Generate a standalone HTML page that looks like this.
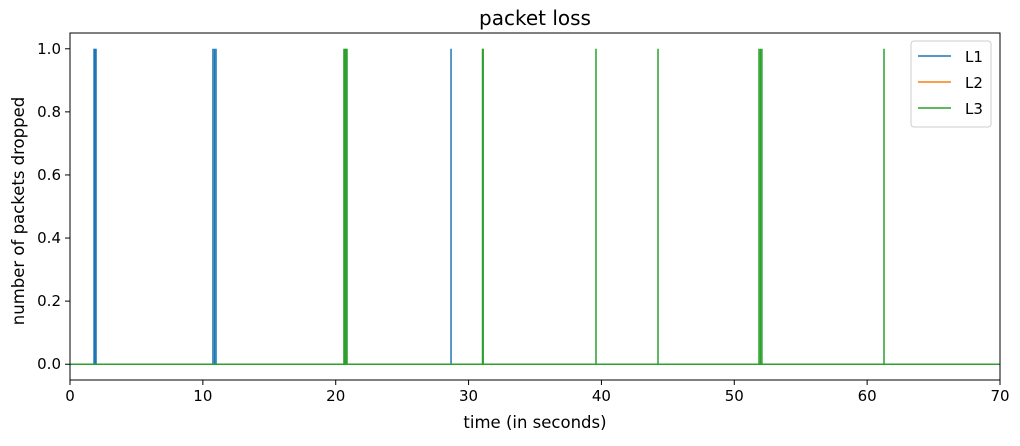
<!DOCTYPE html>
<html><head><meta charset="utf-8"><style>
body{margin:0;background:#fff;font-family:"Liberation Sans","DejaVu Sans",sans-serif}
</style></head><body>
<svg id="chart" width="1020" height="441" xmlns="http://www.w3.org/2000/svg" font-family="DejaVu Sans, Liberation Sans, sans-serif">
<text x="535" y="25" font-size="20" text-anchor="middle" fill="#000">packet loss</text>
<g id="marks"></g>
<g id="axes"></g>
<text x="535" y="428" font-size="16.5" text-anchor="middle">time (in seconds)</text>
<text transform="translate(24,211) rotate(-90)" font-size="16.5" text-anchor="middle">number of packets dropped</text>
<g>
<rect x="911" y="41" width="80" height="86" rx="3" fill="#fff" stroke="#ccc"/>
<line x1="918" y1="56" x2="951" y2="56" stroke="#1f77b4" stroke-width="1.5"/>
<text x="965" y="62" font-size="15">L1</text>
<line x1="918" y1="82" x2="951" y2="82" stroke="#ff7f0e" stroke-width="1.5"/>
<text x="965" y="88" font-size="15">L2</text>
<line x1="918" y1="108" x2="951" y2="108" stroke="#2ca02c" stroke-width="1.5"/>
<text x="965" y="114" font-size="15">L3</text>
</g>
</svg>
<script>
const l1Times=[1.81,1.88,1.96,10.76,10.88,10.99,28.68];
const l2Times=[];
const l3Times=[20.62,20.7,20.78,20.85,31.05,31.1,39.59,44.26,51.86,51.97,52.08,61.27];
const xTicks=[0,10,20,30,40,50,60,70];
const yTicks=[0,0.2,0.4,0.6,0.8,1.0];
const L=70,R=1000,T=33,B=380,xMin=0,xMax=70,yMin=-0.05,yMax=1.05;
const X=v=>L+(v-xMin)/(xMax-xMin)*(R-L);
const Y=v=>B-(v-yMin)/(yMax-yMin)*(B-T);
const NS="http://www.w3.org/2000/svg";
const marks=document.getElementById('marks'),axes=document.getElementById('axes');
function ln(p,x1,y1,x2,y2,c,w){const e=document.createElementNS(NS,'line');e.setAttribute('x1',x1);e.setAttribute('y1',y1);e.setAttribute('x2',x2);e.setAttribute('y2',y2);e.setAttribute('stroke',c);e.setAttribute('stroke-width',w);p.appendChild(e);return e;}
function series(times,color,name){
  const e=ln(marks,X(0),Y(0),X(70),Y(0),color,1.5);
  
  
  times.forEach(t=>{const s=ln(marks,X(t),Y(0),X(t),Y(1),color,1.5);
    
    });
}
series(l1Times,'#1f77b4','l1');series(l2Times,'#ff7f0e','l2');series(l3Times,'#2ca02c','l3');
const fr=document.createElementNS(NS,'rect');fr.setAttribute('x',L);fr.setAttribute('y',T);fr.setAttribute('width',R-L);fr.setAttribute('height',B-T);fr.setAttribute('fill','none');fr.setAttribute('stroke','#000');fr.setAttribute('stroke-width',1);


axes.appendChild(fr);
xTicks.forEach(v=>{ln(axes,X(v),B,X(v),B+5,'#000',1);const t=document.createElementNS(NS,'text');t.setAttribute('x',X(v));t.setAttribute('y',B+21);t.setAttribute('font-size',15);t.setAttribute('text-anchor','middle');t.textContent=v;


axes.appendChild(t);});
yTicks.forEach(v=>{ln(axes,L-5,Y(v),L,Y(v),'#000',1);const t=document.createElementNS(NS,'text');t.setAttribute('x',L-9);t.setAttribute('y',Y(v)+5);t.setAttribute('font-size',15);t.setAttribute('text-anchor','end');t.textContent=v.toFixed(1);


axes.appendChild(t);});
</script>
</body></html>
